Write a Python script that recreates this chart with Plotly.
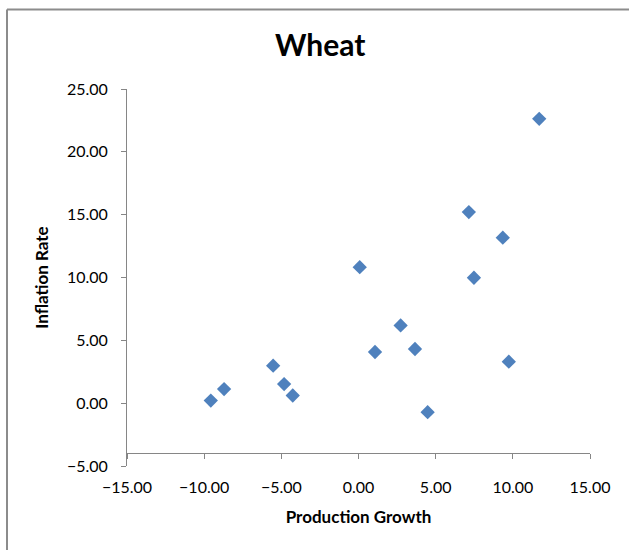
import plotly.graph_objects as go

# Data
production_growth = [-9.57, -8.71, -5.53, -4.82, -4.26, 0.08, 11.71, 7.15, 9.35, 7.48, 2.73, 1.07, 3.66, 9.74, 4.48]
inflation_rate = [0.21, 1.12, 2.98, 1.52, 0.61, 10.82, 22.63, 15.21, 13.17, 9.98, 6.19, 4.07, 4.31, 3.30, -0.72]

title_text = "Wheat"
x_title = "Production Growth"
y_title = "Inflation Rate"

x_range = [-15, 15]
y_range = [-5, 25]
x_axis_crosses_at = -4  # horizontal axis line crosses the vertical axis here

W, H = 629, 550
ML, MR, MT, MB = 127, 39, 89, 84
pw = W - ML - MR
ph = H - MT - MB

axis_color = "#868686"
font_family = "Lato, 'Open Sans', sans-serif"

fig = go.Figure()
fig.add_trace(go.Scatter(
    x=production_growth, y=inflation_rate, mode="markers",
    marker=dict(symbol="diamond", size=11, color="#4F81BD", line=dict(width=0)),
    showlegend=False, hoverinfo="x+y",
))

def px_to_paper_x(px):
    return (px - ML) / pw

def px_to_paper_y(py):
    return (H - MB - py) / ph

# Chart area border (top and left visible)
border = dict(color="#8c8c8c", width=2)
fig.add_shape(type="line", xref="paper", yref="paper",
              x0=px_to_paper_x(7), x1=px_to_paper_x(W),
              y0=px_to_paper_y(9.5), y1=px_to_paper_y(9.5), line=border)
fig.add_shape(type="line", xref="paper", yref="paper",
              x0=px_to_paper_x(7), x1=px_to_paper_x(7),
              y0=px_to_paper_y(9.5), y1=px_to_paper_y(H), line=border)

x_pos = (x_axis_crosses_at - y_range[0]) / (y_range[1] - y_range[0])

fig.update_layout(
    width=W, height=H,
    margin=dict(l=ML, r=MR, t=MT, b=MB),
    paper_bgcolor="white", plot_bgcolor="white",
    font=dict(family=font_family, color="black", size=16),
    title=dict(text="<b>%s</b>" % title_text, x=0.509, xanchor="center",
               y=1 - 45 / H, yanchor="middle",
               font=dict(family=font_family, size=30, color="black")),
    xaxis=dict(
        range=x_range, dtick=5, tick0=-15, tickformat=".2f",
        showgrid=False, zeroline=False,
        showline=True, linecolor=axis_color, linewidth=1,
        ticks="outside", ticklen=5, tickcolor=axis_color, tickwidth=1,
        anchor="free", position=x_pos,
        ticklabelstandoff=14,
        tickfont=dict(family=font_family, size=16, color="black"),
        title=dict(text="<b>%s</b>" % x_title, standoff=16,
                   font=dict(family=font_family, size=17, color="black")),
    ),
    yaxis=dict(
        range=y_range, dtick=5, tick0=-5, tickformat=".2f",
        showgrid=False, zeroline=False,
        showline=True, linecolor=axis_color, linewidth=1,
        ticks="outside", ticklen=5, tickcolor=axis_color, tickwidth=1,
        ticklabelstandoff=10,
        tickfont=dict(family=font_family, size=16, color="black"),
        title=dict(text="<b>%s</b>" % y_title, standoff=13,
                   font=dict(family=font_family, size=17, color="black")),
    ),
)

fig.write_html("out.html",
               config={"displayModeBar": False},
               post_script="document.body.style.margin='0';document.body.style.overflow='hidden';")
